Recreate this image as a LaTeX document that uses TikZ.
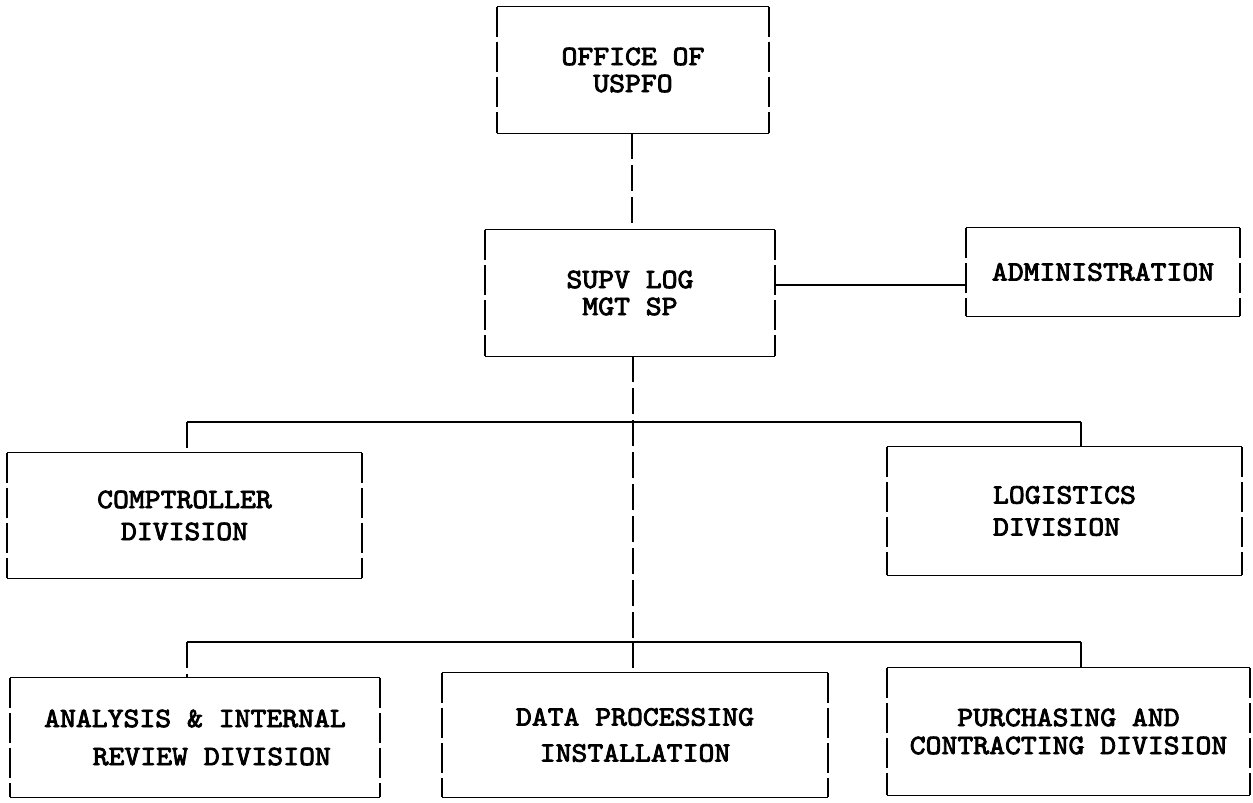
\documentclass[tikz,border=0pt]{standalone}
\usepackage{fontspec}
\newfontfamily\twfont{lmmono10-regular}[Extension=.otf, FakeBold=3, FakeStretch=1.08]
\begin{document}
\begin{tikzpicture}[x=1pt,y=-1pt,
  orgbox/.style={rectangle, inner sep=0pt,
    align=center, font=\twfont\fontsize{28}{32}\selectfont},
  hline/.style={draw=black, line width=1.1pt},
  vline/.style={draw=black, line width=1.6pt, dash pattern=on 30pt off 5pt},
  link/.style={draw=black, line width=1.1pt},
  vlink/.style={draw=black, line width=1.6pt, dash pattern=on 26pt off 6pt}]
\useasboundingbox (0,0) rectangle (1253,803);
% boxes: center, width, height from pixel edges
\node[orgbox, minimum width=272pt, minimum height=126pt] (uspfo) at (633,70) {OFFICE OF\\[-5pt]USPFO};
\node[orgbox, minimum width=290pt, minimum height=126pt] (supv) at (630,293) {SUPV LOG\\[-5pt]MGT SP};
\node[orgbox, minimum width=274pt, minimum height=88pt] (admin) at (1103,272) {ADMINISTRATION};
\node[orgbox, minimum width=355pt, minimum height=125pt] (comp) at (184.5,515.5) {COMPTROLLER\\DIVISION};
\node[orgbox, minimum width=355pt, minimum height=128pt, align=left] (logi) at (1064.5,511) {LOGISTICS\\DIVISION};
\node[orgbox, minimum width=370pt, minimum height=119pt] (anal) at (195,737.5) {ANALYSIS \& INTERNAL\\[6pt]\hspace*{1.2em}REVIEW DIVISION};
\node[orgbox, minimum width=386pt, minimum height=124pt] (dp) at (635,735) {DATA PROCESSING\\[4pt]INSTALLATION};
\node[orgbox, minimum width=363pt, minimum height=127pt] (purch) at (1068.5,731.5) {PURCHASING AND\\[-4pt]CONTRACTING DIVISION};
% box outlines: typed horizontals, broken verticals
\foreach \n in {uspfo,supv,admin,comp,logi,anal,dp,purch}{
  \draw[hline] (\n.north west) -- (\n.north east) (\n.south west) -- (\n.south east);
  \draw[vline] (\n.north west) -- (\n.south west) (\n.north east) -- (\n.south east);
}
% junction coordinates
\coordinate (trunk) at (632,0);
\coordinate (aj) at (0,285);
\coordinate (b1l) at (187,422);
\coordinate (b1r) at (1081,422);
\coordinate (b2l) at (187,642);
\coordinate (b2m) at (633,642);
\coordinate (b2r) at (1081,642);
% connectors
\draw[vlink] (uspfo.south -| trunk) -- (supv.north -| trunk);
\draw[link] (supv.east |- aj) -- (admin.west |- aj);
\draw[vlink] (supv.south -| b2m) -- (b2m);
\draw[link] (b1l) -- (b1r);
\draw[vlink] (b1l) -- (comp.north -| b1l);
\draw[vlink] (b1r) -- (logi.north -| b1r);
\draw[link] (b2l) -- (b2r);
\draw[vlink] (b2l) -- (anal.north -| b2l);
\draw[vlink] (b2m) -- (dp.north -| b2m);
\draw[vlink] (b2r) -- (purch.north -| b2r);
\end{tikzpicture}
\end{document}
